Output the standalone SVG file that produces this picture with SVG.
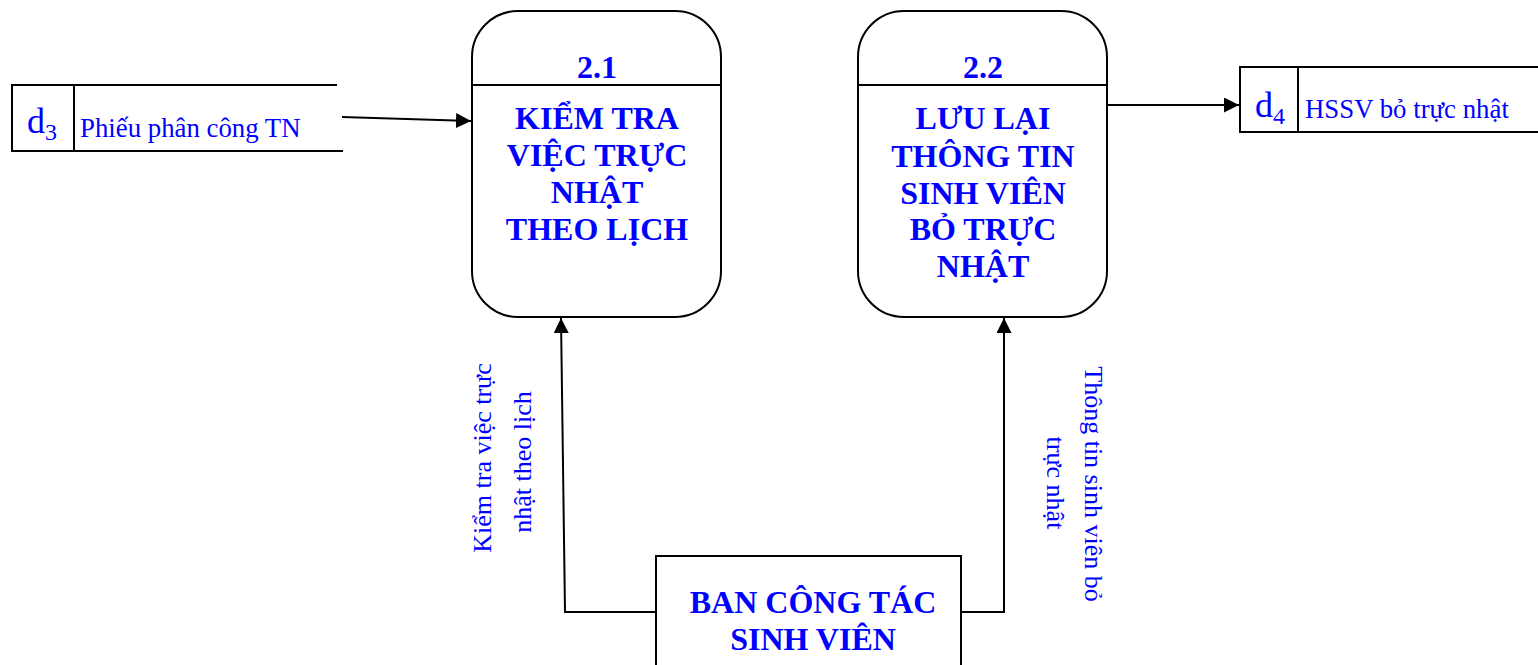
<svg xmlns="http://www.w3.org/2000/svg" width="1538" height="665" viewBox="0 0 1538 665">
  <style>
    .shape { fill: #fff; stroke: #000; stroke-width: 2; }
    .line { fill: none; stroke: #000; stroke-width: 2; }
    .title { font-family: "Liberation Serif", serif; font-weight: bold; font-size: 32px; fill: #0000ff; text-anchor: middle; }
    .num { font-family: "Liberation Serif", serif; font-weight: bold; font-size: 32px; fill: #0000ff; text-anchor: middle; }
    .label { font-family: "Liberation Serif", serif; font-size: 26px; fill: #0000ff; }
    .store-label { font-size: 26.8px; }
    .dlabel { font-family: "Liberation Serif", serif; font-size: 36px; fill: #0000ff; }
  </style>
  <defs>
    <marker id="arrow" viewBox="0 0 10 10" refX="10" refY="5" markerWidth="15" markerHeight="15" markerUnits="userSpaceOnUse" orient="auto">
      <path d="M0,0 L10,5 L0,10 z" fill="#000"/>
    </marker>
  </defs>

  <!-- Data store d3 -->
  <g id="store-d3">
    <path class="line" d="M337,85 L12,85 L12,151 L343,151 M74,85 L74,151"/>
    <text class="dlabel" x="27" y="133">d<tspan font-size="24" dy="7">3</tspan></text>
    <text class="label store-label" x="80" y="137">Phiếu phân công TN</text>
  </g>

  <!-- Process 2.1 -->
  <g id="process-2-1">
    <rect class="shape" x="472" y="11" width="249" height="306" rx="46" ry="46"/>
    <line class="line" x1="472" y1="85" x2="721" y2="85"/>
    <text class="num" x="597" y="78">2.1</text>
    <text class="title" x="597" y="129">KIỂM TRA</text>
    <text class="title" x="597" y="166">VIỆC TRỰC</text>
    <text class="title" x="597" y="203">NHẬT</text>
    <text class="title" x="597" y="240">THEO LỊCH</text>
  </g>

  <!-- Process 2.2 -->
  <g id="process-2-2">
    <rect class="shape" x="858" y="11" width="249" height="306" rx="46" ry="46"/>
    <line class="line" x1="858" y1="85" x2="1107" y2="85"/>
    <text class="num" x="983" y="78">2.2</text>
    <text class="title" x="983" y="129">LƯU LẠI</text>
    <text class="title" x="983" y="167">THÔNG TIN</text>
    <text class="title" x="983" y="204">SINH VIÊN</text>
    <text class="title" x="983" y="240">BỎ TRỰC</text>
    <text class="title" x="983" y="277">NHẬT</text>
  </g>

  <!-- Data store d4 -->
  <g id="store-d4">
    <path class="line" d="M1538,67 L1240,67 L1240,132 L1538,132 M1298,67 L1298,132"/>
    <text class="dlabel" x="1255" y="117">d<tspan font-size="24" dy="7">4</tspan></text>
    <text class="label store-label" x="1305" y="118">HSSV bỏ trực nhật</text>
  </g>

  <!-- External entity -->
  <g id="entity-bctsv">
    <rect class="shape" x="656" y="556" width="305" height="120"/>
    <text class="title" x="813" y="613">BAN CÔNG TÁC</text>
    <text class="title" x="813" y="650">SINH VIÊN</text>
  </g>

  <!-- Connectors -->
  <g id="connectors">
    <line class="line" x1="342" y1="117" x2="471" y2="121" marker-end="url(#arrow)"/>
    <line class="line" x1="1107" y1="105" x2="1239" y2="105" marker-end="url(#arrow)"/>
    <path class="line" d="M656,612 L565,612 L561,318" marker-end="url(#arrow)"/>
    <path class="line" d="M961,612 L1004,612 L1004,318" marker-end="url(#arrow)"/>
    <g id="label-kiem-tra">
      <text class="label" text-anchor="middle" transform="translate(491,458) rotate(-90)">Kiểm tra việc trực</text>
      <text class="label" text-anchor="middle" transform="translate(531,462) rotate(-90)">nhật theo lịch</text>
    </g>
    <g id="label-thong-tin">
      <text class="label" text-anchor="middle" transform="translate(1085,484) rotate(90)">Thông tin sinh viên bỏ</text>
      <text class="label" text-anchor="middle" transform="translate(1047,483) rotate(90)">trực nhật</text>
    </g>
  </g>
</svg>
